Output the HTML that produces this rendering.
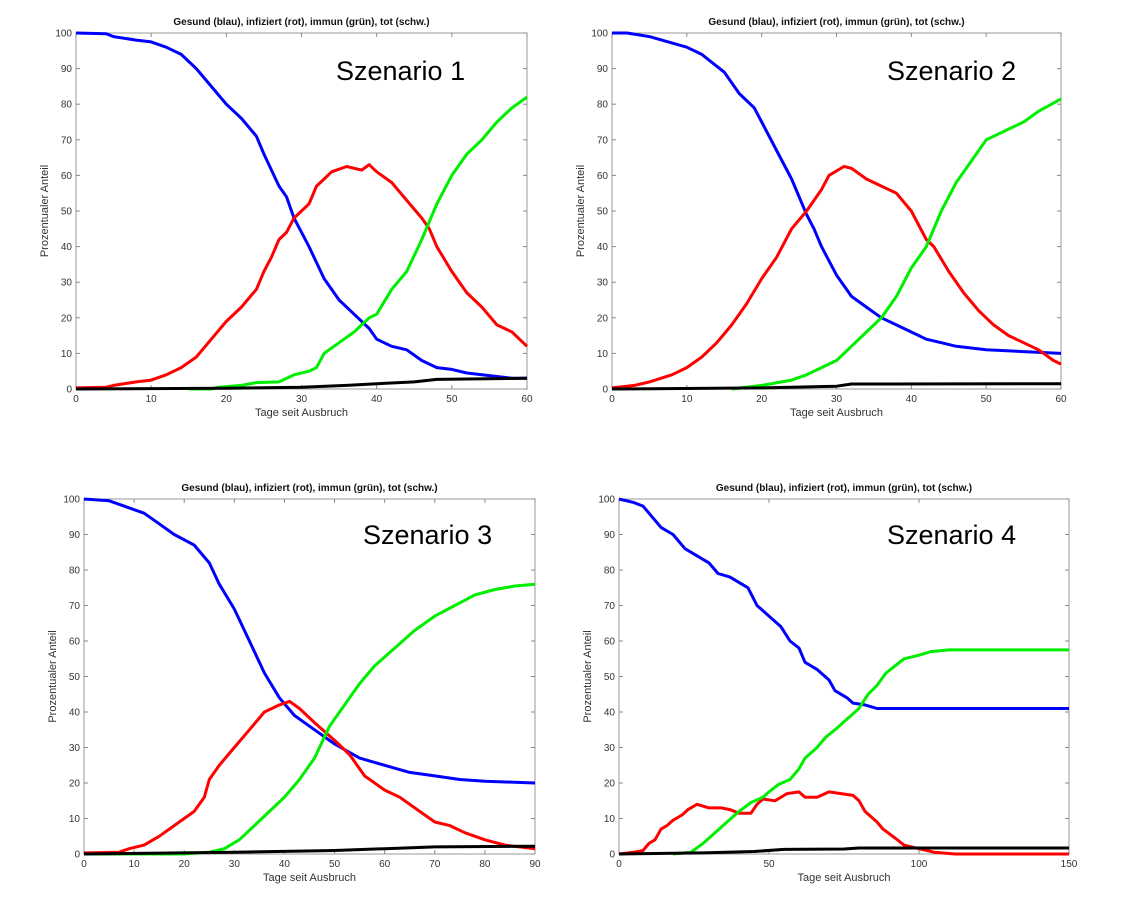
<!DOCTYPE html>
<html><head><meta charset="utf-8">
<style>
html,body{margin:0;padding:0;background:#fff;}
svg{display:block;font-family:"Liberation Sans",Arial,sans-serif;}
</style></head>
<body>
<svg id="chart" width="1141" height="902" viewBox="0 0 1141 902" xmlns="http://www.w3.org/2000/svg"></svg>
<script>
// ---- Data (day, percent) ----
const p1Blue=[[0,100],[4,99.8],[5,99],[8,98],[10,97.5],[12,96],[14,94],[16,90],[18,85],[20,80],[22,76],[24,71],[25,66],[27,57],[28,54],[29,48],[31,40],[33,31],[35,25],[37,21],[39,17],[40,14],[42,12],[44,11],[46,8],[48,6],[50,5.5],[52,4.5],[54,4],[56,3.5],[58,3],[60,3]];
const p1Red=[[0,0.3],[4,0.5],[5,1],[8,2],[10,2.5],[12,4],[14,6],[16,9],[18,14],[20,19],[22,23],[24,28],[25,33],[26,37],[27,42],[28,44],[29,48],[31,52],[32,57],[33,59],[34,61],[36,62.5],[38,61.5],[39,63],[40,61],[42,58],[44,53],[46,48],[47,45],[48,40],[50,33],[52,27],[54,23],[56,18],[58,16],[60,12]];
const p1Green=[[15,0],[18,0],[19,0.5],[22,1],[24,1.8],[27,2],[29,4],[31,5],[32,6],[33,10],[35,13],[37,16],[38,18],[39,20],[40,21],[42,28],[44,33],[46,42],[47,47],[48,52],[50,60],[52,66],[54,70],[56,75],[58,79],[60,82]];
const p1Black=[[0,0],[20,0.2],[30,0.5],[36,1],[40,1.5],[45,2],[48,2.7],[52,2.8],[60,3]];

const p2Blue=[[0,100],[2,100],[5,99],[10,96],[12,94],[15,89],[17,83],[19,79],[20,75],[22,67],[24,59],[26,49],[27,45],[28,40],[30,32],[32,26],[34,23],[36,20],[38,18],[40,16],[42,14],[44,13],[46,12],[50,11],[55,10.5],[60,10]];
const p2Red=[[0,0.3],[3,1],[5,2],[8,4],[10,6],[12,9],[14,13],[16,18],[18,24],[20,31],[22,37],[24,45],[26,50],[28,56],[29,60],[31,62.5],[32,62],[34,59],[36,57],[38,55],[40,50],[42,42],[43,40],[45,33],[47,27],[49,22],[51,18],[53,15],[55,13],[57,11],[59,8],[60,7]];
const p2Green=[[16,0],[20,1],[24,2.5],[26,4],[28,6],[30,8],[32,12],[34,16],[36,20],[38,26],[40,34],[42,40],[44,50],[46,58],[48,64],[50,70],[53,73],[55,75],[57,78],[60,81.5]];
const p2Black=[[0,0],[20,0.3],[30,0.8],[32,1.4],[60,1.5]];

const p3Blue=[[0,100],[5,99.5],[8,98],[12,96],[15,93],[18,90],[22,87],[25,82],[27,76],[30,69],[33,60],[36,51],[39,44],[42,39],[45,36],[50,31],[55,27],[60,25],[65,23],[70,22],[75,21],[80,20.5],[90,20]];
const p3Red=[[0,0.3],[7,0.5],[9,1.5],[12,2.5],[15,5],[18,8],[20,10],[22,12],[24,16],[25,21],[27,25],[30,30],[33,35],[36,40],[39,42],[41,43],[43,41],[46,37],[50,32],[53,28],[56,22],[60,18],[63,16],[67,12],[70,9],[73,8],[76,6],[80,4],[84,2.5],[90,1.5]];
const p3Green=[[0,0],[20,0],[25,0.5],[28,1.5],[31,4],[34,8],[37,12],[40,16],[43,21],[46,27],[49,36],[52,42],[55,48],[58,53],[62,58],[66,63],[70,67],[74,70],[78,73],[82,74.5],[86,75.5],[90,76]];
const p3Black=[[0,0],[30,0.5],[50,1],[60,1.5],[70,2],[90,2.2]];

const p4Blue=[[0,100],[5,99],[8,98],[10,96],[14,92],[18,90],[22,86],[26,84],[30,82],[33,79],[37,78],[40,76.5],[43,75],[46,70],[50,67],[54,64],[57,60],[60,58],[62,54],[66,52],[70,49],[72,46],[76,44],[78,42.5],[82,42],[86,41],[150,41]];
const p4Red=[[0,0],[5,0.5],[8,1],[10,3],[12,4],[14,7],[16,8],[18,9.5],[21,11],[23,12.5],[26,14],[30,13],[34,13],[37,12.5],[40,11.5],[44,11.5],[46,14],[48,15.5],[52,15],[56,17],[60,17.5],[62,16],[66,16],[70,17.5],[74,17],[78,16.5],[80,15],[82,12],[86,9],[88,7],[92,4.5],[95,2.5],[100,1.5],[105,0.5],[112,0],[150,0]];
const p4Green=[[18,0],[24,0.5],[28,3],[32,6],[36,9],[40,12],[44,14.5],[48,16],[50,17.5],[53,19.5],[57,21],[60,24],[62,27],[66,30],[69,33],[72,35],[76,38],[80,41],[83,45],[86,47.5],[89,51],[92,53],[95,55],[100,56],[104,57],[110,57.5],[150,57.5]];
const p4Black=[[0,0],[28,0.3],[45,0.7],[55,1.3],[75,1.4],[80,1.7],[150,1.7]];

const xTicks1=[0,10,20,30,40,50,60];
const xTicks3=[0,10,20,30,40,50,60,70,80,90];
const xTicks4=[0,50,100,150];
const yTicks=[0,10,20,30,40,50,60,70,80,90,100];

const NS="http://www.w3.org/2000/svg";
const svg=document.getElementById('chart');
function mk(tag,attrs,parent){const e=document.createElementNS(NS,tag);for(const k in attrs)e.setAttribute(k,attrs[k]);(parent||svg).appendChild(e);return e;}

const panels=[
 {id:1,x0:76,x1:527,y0:389,y1:33,xmax:60,ticks:xTicks1,series:[p1Blue,p1Red,p1Green,p1Black],lx:336,ly:80},
 {id:2,x0:612,x1:1061,y0:389,y1:33,xmax:60,ticks:xTicks1,series:[p2Blue,p2Red,p2Green,p2Black],lx:887,ly:80},
 {id:3,x0:84,x1:535,y0:854,y1:499,xmax:90,ticks:xTicks3,series:[p3Blue,p3Red,p3Green,p3Black],lx:363,ly:544},
 {id:4,x0:619,x1:1069,y0:854,y1:499,xmax:150,ticks:xTicks4,series:[p4Blue,p4Red,p4Green,p4Black],lx:887,ly:544}
];
const colors=['#0000ff','#ff0000','#00ee00','#000000'];
const sNames=['gesund-line','infiziert-line','immun-line','tot-line'];

panels.forEach(p=>{
 const g=mk('g',{});
 
 
 const sx=d=>p.x0+d/p.xmax*(p.x1-p.x0);
 const sy=v=>p.y0-v/100*(p.y0-p.y1);
 const box=mk('rect',{x:p.x0,y:p.y1,width:p.x1-p.x0,height:p.y0-p.y1,fill:'#fff',stroke:'#999','stroke-width':1},g);
 
 
 yTicks.forEach(v=>{
  const y=sy(v);
  mk('line',{x1:p.x0,x2:p.x0+4,y1:y,y2:y,stroke:'#888'},g);
  mk('line',{x1:p.x1,x2:p.x1-4,y1:y,y2:y,stroke:'#888'},g);
  const t=mk('text',{x:p.x0-4,y:y+3.5,'font-size':10,'text-anchor':'end',fill:'#333'},g);
  t.textContent=v;
  
  
 });
 p.ticks.forEach(d=>{
  const x=sx(d);
  mk('line',{x1:x,x2:x,y1:p.y0,y2:p.y0-4,stroke:'#888'},g);
  mk('line',{x1:x,x2:x,y1:p.y1,y2:p.y1+4,stroke:'#888'},g);
  const t=mk('text',{x:x,y:p.y0+13,'font-size':10,'text-anchor':'middle',fill:'#333'},g);
  t.textContent=d;
  
  
 });
 p.series.forEach((s,i)=>{
  const pts=s.map(q=>sx(q[0]).toFixed(1)+','+sy(q[1]).toFixed(1)).join(' ');
  const l=mk('polyline',{points:pts,fill:'none',stroke:colors[i],'stroke-width':3,'stroke-linejoin':'round'},g);
  
  
 });
 const cx=(p.x0+p.x1)/2;
 const tt=mk('text',{x:cx,y:p.y1-8,'font-size':10,'font-weight':'bold','text-anchor':'middle',fill:'#111'},g);
 tt.textContent='Gesund (blau), infiziert (rot), immun (grün), tot (schw.)';
 
 
 const xl=mk('text',{x:cx,y:p.y0+27,'font-size':11,'text-anchor':'middle',fill:'#333'},g);
 xl.textContent='Tage seit Ausbruch';
 
 
 const ym=(p.y0+p.y1)/2, yx=p.x0-28;
 const yl=mk('text',{x:yx,y:ym,'font-size':11,'text-anchor':'middle',fill:'#333',transform:'rotate(-90 '+yx+' '+ym+')'},g);
 yl.textContent='Prozentualer Anteil';
 
 
 const lb=mk('text',{x:p.lx,y:p.ly,'font-size':27,fill:'#000'},g);
 lb.textContent='Szenario '+p.id;
 
 
});
</script>
</body></html>
